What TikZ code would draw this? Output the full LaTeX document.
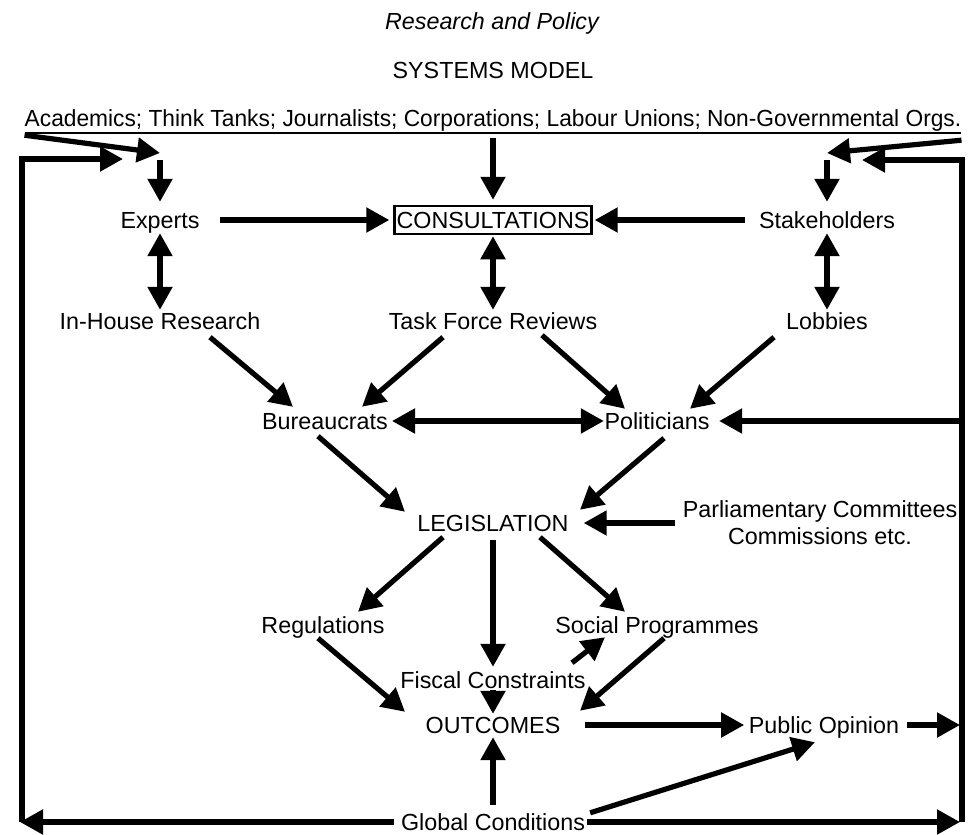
\documentclass[tikz,border=0pt]{standalone}
\usepackage{fontspec}
\setmainfont{Liberation Sans}
\usetikzlibrary{arrows.meta}
\newcommand\diagfont{\fontsize{23.3}{27}\selectfont}
\begin{document}
\begin{tikzpicture}[x=1pt,y=-1pt,
  every node/.style={font=\diagfont},
  lbl/.style={inner sep=0pt, text height=17pt, text depth=1pt},
  arr/.style={line width=5.2pt, -{Triangle[length=23pt,width=24pt]}},
  darr/.style={line width=5.2pt, {Triangle[length=23pt,width=24pt]}-{Triangle[length=23pt,width=24pt]}},
  boxed/.style={draw, line width=2.5pt, inner xsep=2pt, inner ysep=0pt, minimum height=28pt, text height=17pt, text depth=0pt},
]
\useasboundingbox (0,0) rectangle (977,835);

% titles
\node[lbl, font=\diagfont\itshape] (title) at (492,21) {Research and Policy};
\node[lbl] (sys) at (493,70) {SYSTEMS MODEL};
\node[lbl] (src) at (493,118) {\scalebox{0.976}[1]{Academics; Think Tanks; Journalists; Corporations; Labour Unions; Non-Governmental Orgs.}};

% nodes
\node[lbl] (experts) at (160,220) {Experts};
\node[boxed] (consult) at (493,220) {CONSULTATIONS};
\node[lbl] (stake) at (827,220) {Stakeholders};
\node[lbl] (inhouse) at (160,321) {In-House Research};
\node[lbl] (task) at (493,321) {Task Force Reviews};
\node[lbl] (lobbies) at (827,321) {Lobbies};
\node[lbl] (bur) at (325,421) {Bureaucrats};
\node[lbl] (pol) at (657,421) {Politicians};
\node[lbl] (legis) at (493,523) {LEGISLATION};
\node[inner sep=0pt, align=center] (parl) at (820,523) {Parliamentary Committees\\Commissions etc.};
\node[lbl] (reg) at (323,625) {Regulations};
\node[lbl] (social) at (657,625) {Social Programmes};
\node[lbl] (fiscal) at (493,680) {Fiscal Constraints};
\node[lbl] (outc) at (493,725) {OUTCOMES};
\node[lbl] (public) at (824,725) {Public Opinion};
\node[lbl] (glob) at (493,822) {Global Conditions};

% junction coordinates
\coordinate (jl) at (160,153);
\coordinate (jr) at (827,153);
\coordinate (lb) at (22,822);
\coordinate (lt) at (22,159);
\coordinate (lte) at (123,159);
\coordinate (lbt) at (20,822);
\coordinate (rb) at (962,822);
\coordinate (rt) at (962,160);
\coordinate (rte) at (862,160);
\coordinate (rbt) at (960,822);
\coordinate (rpo) at (960,725);
\coordinate (rpl) at (962,421);

% underline of sources
\draw[line width=2.2pt] ([yshift=-6pt]src.south west) -- ([yshift=-6pt]src.south east);

% top connectors
\draw[arr] ([yshift=-8pt]src.south west) -- (jl);
\draw[arr] ([yshift=-13pt]src.south east) -- (jr);
\draw[arr, shorten >=5pt] ([yshift=-11pt]src.south) -- (consult.north);
\draw[arr, shorten <=7pt, shorten >=9pt] (jl) -- (experts.north);
\draw[arr, shorten <=7pt, shorten >=9pt] (jr) -- (stake.north);

% feedback frame
\draw[arr] (lb) -- (lt) -- (lte);
\draw[arr] (rb) -- (rt) -- (rte);

% consultation row
\draw[arr, shorten <=20.5pt, shorten >=4pt] (experts.east) -- (consult.west);
\draw[arr, shorten <=14pt, shorten >=2pt] (stake.west) -- (consult.east);
\draw[darr, shorten <=4pt, shorten >=2pt] (experts.south) -- (inhouse.north);
\draw[darr, shorten <=1pt, shorten >=2pt] (consult.south) -- (task.north);
\draw[darr, shorten <=4pt, shorten >=2pt] (stake.south) -- (lobbies.north);

% to bureaucrats / politicians
\draw[arr] ([xshift=50pt,yshift=-7pt]inhouse.south) -- ([xshift=-32pt,yshift=5pt]bur.north);
\draw[arr] ([xshift=-50pt,yshift=-7pt]task.south) -- ([xshift=37pt,yshift=5pt]bur.north);
\draw[arr] ([xshift=49pt,yshift=-5pt]task.south) -- ([xshift=-32pt,yshift=3pt]pol.north);
\draw[arr] ([xshift=-53pt,yshift=-7pt]lobbies.south) -- ([xshift=33pt,yshift=3pt]pol.north);
\draw[darr, shorten <=4pt, shorten >=0.5pt] (bur.east) -- (pol.west);
\draw[arr, shorten >=9.5pt] (rpl) -- (pol.east);

% legislation
\draw[arr] ([xshift=-7pt,yshift=-6pt]bur.south) -- ([xshift=-88pt,yshift=2pt]legis.north);
\draw[arr] ([xshift=7pt,yshift=-8pt]pol.south) -- ([xshift=87pt,yshift=4pt]legis.north);
\draw[arr, shorten <=7.5pt, shorten >=15pt] (parl.west) -- (legis.east);
\draw[arr] ([xshift=-50pt,yshift=-5pt]legis.south) -- ([xshift=35pt,yshift=4pt]reg.north);
\draw[arr] ([xshift=47pt,yshift=-5pt]legis.south) -- ([xshift=-32pt,yshift=4pt]social.north);
\draw[arr, shorten <=8pt, shorten >=4pt] (legis.south) -- (fiscal.north);

% outcomes
\draw[arr] ([xshift=-5pt,yshift=-4pt]reg.south) -- ([xshift=-88pt,yshift=4pt]outc.north);
\draw[arr] ([xshift=79pt,yshift=8pt]fiscal.north) -- ([xshift=-52pt,yshift=-3pt]social.south);
\draw[arr, shorten <=1pt, shorten >=2pt] (fiscal.south) -- (outc.north);
\draw[arr] ([xshift=7pt,yshift=-4pt]social.south) -- ([xshift=87pt,yshift=5pt]outc.north);
\draw[arr, shorten <=24pt, shorten >=4.5pt] (outc.east) -- (public.west);
\draw[arr, shorten <=8pt] (public.east) -- (rpo);

% global conditions
\draw[arr, shorten <=8pt, shorten >=3pt] (glob.north) -- (outc.south);
\draw[arr] ([xshift=5pt]glob.north east) -- ([xshift=-9pt,yshift=-8pt]public.south);
\draw[arr, shorten <=2pt] (glob.east) -- (rbt);
\draw[arr, shorten <=7pt] (glob.west) -- (lbt);
\end{tikzpicture}
\end{document}
